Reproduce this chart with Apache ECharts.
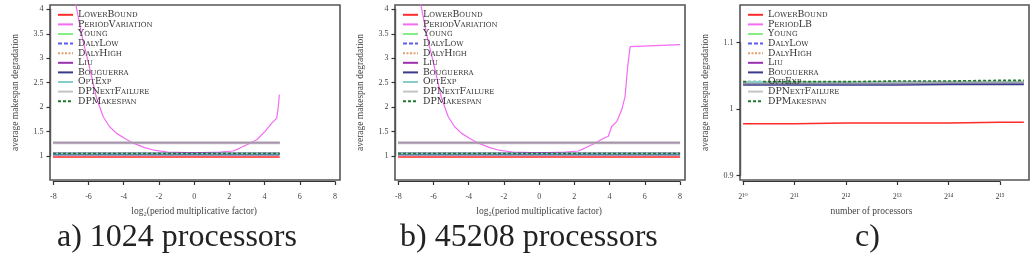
<!DOCTYPE html>
<html lang="en">
<head>
<meta charset="UTF-8">
<title>average makespan degradation</title>
<script src="https://cdn.jsdelivr.net/npm/echarts@6/dist/echarts.min.js"></script>
<style>body{margin:0;background:#fff;}</style>
</head>
<body>
<div id="mybox" style="width:1033px;height:259px;"></div>
<script>
// ---- data ----
// a) 1024 processors, b) 45208 processors : x = log2(period multiplicative factor)
var factorA = [-8, -4, 0, 4, 4.86];
var factorB = [-8, -4, 0, 4, 8];
var flatA = {
    LowerBound: [0.98, 0.98, 0.98, 0.98, 0.98],
    Young: [1.045, 1.045, 1.045, 1.045, 1.045],
    DalyLow: [1.045, 1.045, 1.045, 1.045, 1.045],
    DalyHigh: [1.045, 1.045, 1.045, 1.045, 1.045],
    Liu: [1.27, 1.27, 1.27, 1.27, 1.27],
    Bouguerra: [1.04, 1.04, 1.04, 1.04, 1.04],
    OptExp: [1.045, 1.045, 1.045, 1.045, 1.045],
    DPNextFailure: [1.27, 1.27, 1.27, 1.27, 1.27],
    DPMakespan: [1.05, 1.05, 1.05, 1.05, 1.05]
};
var flatB = flatA;

// PeriodVariation curves
var pvXA = [-7.0, -6.67, -6.3, -6.0, -5.53, -5.15, -4.8, -4.39, -3.9, -3.44, -2.8, -2.3, -1.5, -0.5, 0.5, 1.5, 2.23, 2.6, 3.18, 3.56, 4.03, 4.41, 4.69, 4.78, 4.84];
var pvYA = [4.6, 4.02, 3.35, 2.92, 2.18, 1.80, 1.60, 1.46, 1.35, 1.26, 1.17, 1.12, 1.08, 1.07, 1.07, 1.08, 1.10, 1.16, 1.26, 1.33, 1.50, 1.67, 1.77, 2.0, 2.25];
var pvXB = [-7.0, -6.67, -6.3, -6.0, -5.53, -5.15, -4.8, -4.39, -3.9, -3.44, -2.8, -2.3, -1.5, -0.5, 0.5, 1.5, 2.23, 2.6, 3.18, 3.56, 3.93, 4.12, 4.41, 4.69, 4.88, 5.03, 5.17, 5.25, 8];
var pvYB = [4.6, 4.02, 3.35, 2.92, 2.18, 1.80, 1.60, 1.46, 1.35, 1.26, 1.17, 1.12, 1.08, 1.07, 1.07, 1.08, 1.10, 1.16, 1.26, 1.34, 1.40, 1.60, 1.70, 1.94, 2.21, 2.83, 3.23, 3.27, 3.27];

// c) x = log2(number of processors)
var procExp = [10, 11, 12, 13, 14, 15, 15.46];
var flatC = {
    LowerBound: [0.978, 0.978, 0.979, 0.979, 0.979, 0.980, 0.980],
    PeriodLB: [1.039, 1.039, 1.039, 1.039, 1.040, 1.040, 1.040],
    Young: [1.040, 1.040, 1.040, 1.040, 1.041, 1.041, 1.041],
    DalyLow: [1.039, 1.039, 1.039, 1.040, 1.040, 1.040, 1.040],
    DalyHigh: [1.040, 1.040, 1.040, 1.040, 1.041, 1.041, 1.041],
    Liu: [1.039, 1.039, 1.039, 1.039, 1.040, 1.040, 1.040],
    Bouguerra: [1.037, 1.037, 1.037, 1.037, 1.038, 1.038, 1.038],
    OptExp: [1.040, 1.040, 1.040, 1.040, 1.041, 1.041, 1.041],
    DPNextFailure: [1.039, 1.039, 1.039, 1.039, 1.040, 1.040, 1.040],
    DPMakespan: [1.041, 1.041, 1.041, 1.042, 1.042, 1.043, 1.043]
};
var procTicks = ['2\u00b9\u2070', '2\u00b9\u00b9', '2\u00b9\u00b2', '2\u00b9\u00b3', '2\u00b9\u2074', '2\u00b9\u2075'];

var namesAB = ['LowerBound', 'PeriodVariation', 'Young', 'DalyLow', 'DalyHigh', 'Liu', 'Bouguerra', 'OptExp', 'DPNextFailure', 'DPMakespan'];
var namesC = ['LowerBound', 'PeriodLB', 'Young', 'DalyLow', 'DalyHigh', 'Liu', 'Bouguerra', 'OptExp', 'DPNextFailure', 'DPMakespan'];

// ---- styles ----
var styles = {
    LowerBound: {color: '#ff2a2a', width: 1.5},
    PeriodVariation: {color: '#f36cf3', width: 1.2},
    PeriodLB: {color: '#f36cf3', width: 1.2},
    Young: {color: '#86ec86', width: 1.5},
    DalyLow: {color: '#5c5cf0', width: 1.5, type: [4, 2]},
    DalyHigh: {color: '#e0a070', width: 1.5, type: [2, 1.5]},
    Liu: {color: '#9a30b0', width: 1.5},
    Bouguerra: {color: '#3a3a8c', width: 3},
    OptExp: {color: '#86cccc', width: 1.5},
    DPNextFailure: {color: '#b0b0b0', width: 3, opacity: 0.75},
    DPMakespan: {color: '#1f7a2e', width: 1.6, type: [3, 2]}
};

var serif = 'Liberation Serif, DejaVu Serif, serif';
var ink = '#444';

function zip(xs, ys) {
    return xs.map(function (x, i) { return [x, ys[i]]; });
}

function mkSeries(name, xs, ys, axisIdx) {
    var s = styles[name];
    return {
        name: name, type: 'line', xAxisIndex: axisIdx, yAxisIndex: axisIdx,
        data: zip(xs, ys), symbol: 'none', clip: true, silent: true,
        color: s.color,
        lineStyle: {color: s.color, width: s.width, type: s.type || 'solid', opacity: s.opacity || 1}
    };
}

var series = [];
// panel a (box axes 0), panel b (box axes 2), panel c (box axes 4)
namesAB.forEach(function (n) {
    if (n === 'PeriodVariation') {
        series.push(mkSeries(n, pvXA, pvYA, 0));
        series.push(mkSeries(n, pvXB, pvYB, 2));
    } else {
        series.push(mkSeries(n, factorA, flatA[n], 0));
        series.push(mkSeries(n, factorB, flatB[n], 2));
    }
});
namesC.forEach(function (n) {
    series.push(mkSeries(n, procExp, flatC[n], 4));
});

// box = data area with frame; strip = R-style axes spanning first..last tick
var panels = [
    {boxLeft: 50, boxW: 290, xMin: -8.17, xMax: 8.28, yMin: 0.509, yMax: 4.078,
        axLeft: 53.3, axW: 281.7, axTop: 9.33, axH: 146.67, tx: [-8, 8, 2], ty: [1, 4, 0.5]},
    {boxLeft: 395, boxW: 290, xMin: -8.17, xMax: 8.28, yMin: 0.509, yMax: 4.078,
        axLeft: 398.3, axW: 281.7, axTop: 9.33, axH: 146.67, tx: [-8, 8, 2], ty: [1, 4, 0.5]},
    {boxLeft: 740, boxW: 289, xMin: 9.94, xMax: 15.56, yMin: 0.8935, yMax: 1.156,
        axLeft: 743, axW: 257, axTop: 42.7, axH: 133, tx: [10, 15, 1], ty: [0.9, 1.1, 0.1]}
];

var grids = [], xAxes = [], yAxes = [];
var boxTop = 5, boxH = 175, xLineY = 181.5;

panels.forEach(function (p, i) {
    var isC = i === 2;
    grids.push({left: p.boxLeft, top: boxTop, width: p.boxW, height: boxH, show: true,
        borderColor: '#555', borderWidth: 1.6, backgroundColor: 'transparent', outerBoundsMode: 'none'});
    grids.push({left: p.axLeft, top: p.axTop, width: p.axW, height: p.axH, show: false, outerBoundsMode: 'none'});

    xAxes.push({gridIndex: 2 * i, type: 'value', min: p.xMin, max: p.xMax, show: false});
    // box y axis only carries the title, centred on the frame
    yAxes.push({
        gridIndex: 2 * i, type: 'value', min: p.yMin, max: p.yMax,
        axisLine: {show: false, onZero: false}, axisTick: {show: false},
        axisLabel: {show: false}, splitLine: {show: false},
        name: 'average makespan degradation', nameLocation: 'middle', nameGap: 30, nameRotate: 90,
        nameTextStyle: {fontFamily: serif, fontSize: 9.5, color: ink}
    });

    xAxes.push({
        gridIndex: 2 * i + 1, type: 'value',
        min: p.tx[0], max: p.tx[1], interval: p.tx[2],
        offset: xLineY - (p.axTop + p.axH),
        axisLine: {show: true, onZero: false, lineStyle: {color: '#333', width: 1.2}},
        axisTick: {show: true, length: 3.5, lineStyle: {color: '#333', width: 1.2}},
        axisLabel: {margin: 11.5, fontFamily: serif, fontSize: 8, color: ink,
            formatter: isC ? function (v) { return procTicks[v - 10]; } : null},
        splitLine: {show: false},
        name: isC ? 'number of processors' : 'log\u2082(period multiplicative factor)',
        nameLocation: 'middle', nameGap: 24.5,
        nameTextStyle: {fontFamily: serif, fontSize: 9.5, color: ink}
    });
    yAxes.push({
        gridIndex: 2 * i + 1, type: 'value',
        min: p.ty[0], max: p.ty[1], interval: p.ty[2],
        offset: p.axLeft - p.boxLeft,
        axisLine: {show: true, onZero: false, lineStyle: {color: '#555', width: 1.4}},
        axisTick: {show: true, length: 3.5, lineStyle: {color: '#333', width: 1.2}},
        axisLabel: {margin: 6.5, fontFamily: serif, fontSize: 8, color: ink},
        splitLine: {show: false}
    });
});

function legendFor(names, left) {
    return {
        orient: 'vertical', left: left, top: 10, padding: 0, itemGap: 0,
        itemWidth: 15, itemHeight: 9.6,
        data: names, selectedMode: false,
        itemStyle: {opacity: 0, borderWidth: 0},
        textStyle: {fontFamily: 'DejaVu Serif, serif', fontSize: 9.3, fontStyle: 'small-caps', color: '#333', lineHeight: 9.6}
    };
}

var captionStyle = {fontFamily: serif, fontSize: 32, fontWeight: 'normal', color: '#222'};

var mychart = echarts.init(document.getElementById('mybox'), null, {renderer: 'canvas'});
mychart.setOption({
    animation: false,
    backgroundColor: '#fff',
    title: [
        {text: 'a) 1024 processors', left: 57, top: 222, padding: 0, textStyle: captionStyle},
        {text: 'b) 45208 processors', left: 400, top: 222, padding: 0, textStyle: captionStyle},
        {text: 'c)', left: 855, top: 222, padding: 0, textStyle: captionStyle}
    ],
    legend: [legendFor(namesAB, 57), legendFor(namesAB, 402), legendFor(namesC, 747)],
    grid: grids,
    xAxis: xAxes,
    yAxis: yAxes,
    series: series
});
</script>
</body>
</html>
